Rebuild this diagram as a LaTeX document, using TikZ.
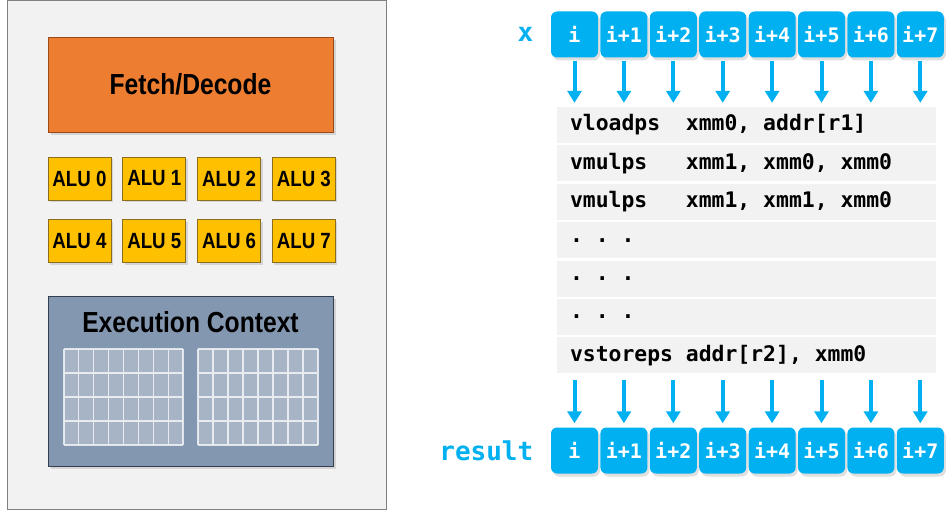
\documentclass[tikz,border=0pt]{standalone}
\usepackage{fontspec}
\usetikzlibrary{arrows.meta,positioning,shadows}
\newfontfamily\condfont[FakeStretch=0.85]{Liberation Sans}
\newfontfamily\codefont{DejaVu Sans Mono}
\newcommand\vsp{\hphantom{x}}
\definecolor{simdblue}{HTML}{00B0F0}
\definecolor{fetchfill}{HTML}{ED7D31}
\definecolor{fetchline}{HTML}{9C4A1A}
\definecolor{alufill}{HTML}{FFC000}
\definecolor{aluline}{HTML}{8C6D1F}
\definecolor{ctxfill}{HTML}{8497B0}
\definecolor{ctxline}{HTML}{333F50}
\definecolor{cellfill}{HTML}{A7B4C6}
\definecolor{rowfill}{HTML}{F2F2F2}
\tikzset{
>={Triangle[width=14pt,length=12pt]},
	lanebox/.style={
		rectangle,
		rounded corners=6pt,
		fill=simdblue,
		text=white,
		minimum width=47pt,
		minimum height=46pt,
		inner sep=0pt,
		font=\codefont\bfseries\fontsize{20}{24}\selectfont,
		drop shadow={opacity=0.25,shadow xshift=2pt,shadow yshift=-3pt}},
	instrbox/.style={
		rectangle,
		fill=rowfill,
		text width=353pt,
		inner xsep=13pt,
		inner ysep=0pt,
		minimum height=36pt,
		align=left,
		font=\codefont\bfseries\fontsize{21.4}{25}\selectfont},
	alubox/.style={
		rectangle,
		fill=alufill,
		draw=aluline, thick,
		minimum width=63pt,
		minimum height=43pt,
		inner sep=0pt,
		font=\condfont\bfseries\fontsize{22}{26}\selectfont,
		drop shadow={opacity=0.25,shadow xshift=2pt,shadow yshift=-2pt}},
	unitbox/.style={
		rectangle,
		draw, thick,
		minimum width=285pt,
		inner sep=0pt,
		font=\condfont\bfseries\fontsize{29}{34}\selectfont,
		drop shadow={opacity=0.25,shadow xshift=3pt,shadow yshift=-3pt}},
	lbl/.style={
		text=simdblue,
		font=\codefont\bfseries\fontsize{26}{30}\selectfont},
	flow/.style={
		->,
		simdblue,
		line width=4pt,
		shorten <=3pt,
		shorten >=4pt},
	gridline/.style={
		white, opacity=0.75, line width=1.2pt}
}
\begin{document}
\begin{tikzpicture}[x=1pt,y=-1pt]
\useasboundingbox (0,0) rectangle (948,511);
% core
\node[rectangle, fill=rowfill, draw=black!50, thick, minimum width=379pt, minimum height=509pt] (core) at (196.5,254.5) {};
\node[unitbox, fill=fetchfill, draw=fetchline, minimum height=95pt] (fetch) at (190.5,84.5) {Fetch/Decode};
\node[alubox] (alu0) at (79.5,178.5) {ALU 0};
\node[alubox, right=11pt of alu0] (alu1) {ALU 1};
\node[alubox, right=11pt of alu1] (alu2) {ALU 2};
\node[alubox, right=11pt of alu2] (alu3) {ALU 3};
\node[alubox, below=19pt of alu0] (alu4) {ALU 4};
\node[alubox, right=11pt of alu4] (alu5) {ALU 5};
\node[alubox, right=11pt of alu5] (alu6) {ALU 6};
\node[alubox, right=11pt of alu6] (alu7) {ALU 7};
\node[unitbox, fill=ctxfill, draw=ctxline, minimum height=170pt] (ctx) at (190.5,381) {};
\node[font=\condfont\bfseries\fontsize{29}{34}\selectfont] (ctxlabel) at (190.5,322.5) {Execution Context};
\fill[cellfill] (64,349) rectangle (183,445);
\draw[gridline, shift={(64,349)}, xstep=14.875pt, ystep=24pt] (0,0) grid (119.2,96.2);
\fill[cellfill] (198,349) rectangle (318,445);
\draw[gridline, shift={(198,349)}, xstep=15pt, ystep=24pt] (0,0) grid (120.2,96.2);
% input lanes
\node[lanebox] (x0) at (574.5,34.5) {i};
\node[lanebox, right=2pt of x0] (x1) {i+1};
\node[lanebox, right=2pt of x1] (x2) {i+2};
\node[lanebox, right=2pt of x2] (x3) {i+3};
\node[lanebox, right=2pt of x3] (x4) {i+4};
\node[lanebox, right=2pt of x4] (x5) {i+5};
\node[lanebox, right=2pt of x5] (x6) {i+6};
\node[lanebox, right=2pt of x6] (x7) {i+7};
\node[lbl, left=14pt of x0] (xlabel) {x};
% instructions
\node[instrbox] (ins1) at (746.5,125) {vloadps\vsp\vsp xmm0,\vsp addr[r1]};
\node[instrbox, below=2pt of ins1] (ins2) {vmulps\vsp\vsp\vsp xmm1,\vsp xmm0,\vsp xmm0};
\node[instrbox, below=2pt of ins2] (ins3) {vmulps\vsp\vsp\vsp xmm1,\vsp xmm1,\vsp xmm0};
\node[instrbox, below=2pt of ins3] (ins4) {.\vsp.\vsp.};
\node[instrbox, below=2pt of ins4] (ins5) {.\vsp.\vsp.};
\node[instrbox, below=2pt of ins5] (ins6) {.\vsp.\vsp.};
\node[instrbox, below=2pt of ins6] (ins7) {vstoreps\vsp addr[r2],\vsp xmm0};
% result lanes
\node[lanebox] (r0) at (574.5,450.5) {i};
\node[lanebox, right=2pt of r0] (r1) {i+1};
\node[lanebox, right=2pt of r1] (r2) {i+2};
\node[lanebox, right=2pt of r2] (r3) {i+3};
\node[lanebox, right=2pt of r3] (r4) {i+4};
\node[lanebox, right=2pt of r4] (r5) {i+5};
\node[lanebox, right=2pt of r5] (r6) {i+6};
\node[lanebox, right=2pt of r6] (r7) {i+7};
\node[lbl, left=14pt of r0] (rlabel) {result};
% arrows
\draw[flow] (x0.south) -- (x0.south |- ins1.north);
\draw[flow] (x1.south) -- (x1.south |- ins1.north);
\draw[flow] (x2.south) -- (x2.south |- ins1.north);
\draw[flow] (x3.south) -- (x3.south |- ins1.north);
\draw[flow] (x4.south) -- (x4.south |- ins1.north);
\draw[flow] (x5.south) -- (x5.south |- ins1.north);
\draw[flow] (x6.south) -- (x6.south |- ins1.north);
\draw[flow] (x7.south) -- (x7.south |- ins1.north);
\draw[flow, shorten <=6pt] (r0.north |- ins7.south) -- (r0.north);
\draw[flow, shorten <=6pt] (r1.north |- ins7.south) -- (r1.north);
\draw[flow, shorten <=6pt] (r2.north |- ins7.south) -- (r2.north);
\draw[flow, shorten <=6pt] (r3.north |- ins7.south) -- (r3.north);
\draw[flow, shorten <=6pt] (r4.north |- ins7.south) -- (r4.north);
\draw[flow, shorten <=6pt] (r5.north |- ins7.south) -- (r5.north);
\draw[flow, shorten <=6pt] (r6.north |- ins7.south) -- (r6.north);
\draw[flow, shorten <=6pt] (r7.north |- ins7.south) -- (r7.north);
\end{tikzpicture}
\end{document}
